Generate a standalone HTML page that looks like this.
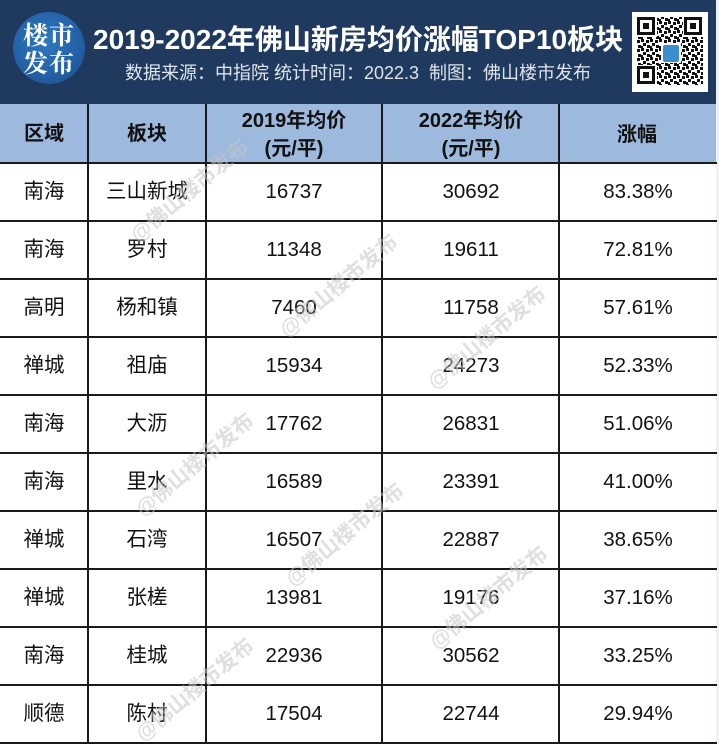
<!DOCTYPE html>
<html><head><meta charset="utf-8">
<style>
*{margin:0;padding:0;box-sizing:border-box}
html,body{width:719px;height:744px;overflow:hidden;background:#fff}
body{position:relative;font-family:"Liberation Sans","Noto Sans CJK SC",sans-serif;color:#111}
.band{position:absolute;left:0;top:0;width:716px;height:104px;background:#1f3a5e}
.rstrip{position:absolute;left:716px;top:0;width:3px;height:744px;background:#eef2f7}
.logo{position:absolute;left:13px;top:12px;width:72px;height:72px;border-radius:50%;
 background:radial-gradient(circle at 45% 40%,#2f78c2 0%,#2462a8 55%,#1b4c88 100%);}
.logo div{position:absolute;left:0;width:72px;text-align:center;color:#fff;font-family:"Noto Serif CJK SC","Noto Sans CJK SC",serif;font-weight:bold;font-size:25px;letter-spacing:1px;line-height:26px}
.title{position:absolute;left:93px;top:22px;color:#fff;font-weight:bold;font-size:28px;line-height:36px;white-space:nowrap}
.sub{position:absolute;left:125px;top:61px;color:#dfe4ec;font-size:18px;line-height:24px;white-space:nowrap}
.thead{position:absolute;left:0;top:104px;width:716px;height:59px;background:#9db9de}
.vl{position:absolute;top:104px;width:2px;height:640px;background:#1a1a1a}
.hl{position:absolute;left:0;width:717px;height:2px;background:#1a1a1a}
.c{position:absolute;text-align:center;white-space:nowrap;transform:translateX(-50%)}
.h{font-weight:bold;font-size:20px;line-height:28px}
.b{font-size:20.5px;line-height:24px}
</style></head><body>
<div class="band"></div>
<div class="rstrip"></div>
<div class="logo"><div style="top:9px">楼市</div><div style="top:37px">发布</div></div>
<div class="title">2019-2022年佛山新房均价涨幅TOP10板块</div>
<div class="sub">数据来源：中指院 统计时间：2022.3&nbsp; 制图：佛山楼市发布</div>

<svg style="position:absolute;left:632px;top:12px" width="76" height="80" viewBox="0 0 76 80">
<defs><pattern id="qr" width="9" height="9" patternUnits="userSpaceOnUse">
<rect x="0" y="0" width="3" height="3" fill="#111"/><rect x="5" y="1" width="3" height="3" fill="#111"/>
<rect x="2" y="4" width="3" height="3" fill="#111"/><rect x="6" y="6" width="3" height="3" fill="#111"/>
<rect x="0" y="7" width="2" height="2" fill="#111"/></pattern></defs>
<rect width="76" height="80" fill="#fff"/>
<rect x="5" y="5" width="66" height="68" fill="url(#qr)"/>
<g fill="#fff"><rect x="4" y="4" width="21" height="21"/><rect x="51" y="4" width="21" height="21"/><rect x="4" y="53" width="21" height="21"/></g>
<g fill="none" stroke="#111" stroke-width="3"><rect x="6.5" y="6.5" width="15" height="15"/><rect x="53.5" y="6.5" width="15" height="15"/><rect x="6.5" y="55.5" width="15" height="15"/></g>
<g fill="#111"><rect x="11" y="11" width="6" height="6"/><rect x="58" y="11" width="6" height="6"/><rect x="11" y="60" width="6" height="6"/></g>
<rect x="29" y="31" width="20" height="20" fill="#fff"/>
<rect x="31" y="33" width="16" height="17" fill="#3a8fd0" rx="2"/>
</svg>

<div class="thead"></div>

<div class="vl" style="left:87px"></div>
<div class="vl" style="left:205px"></div>
<div class="vl" style="left:381px"></div>
<div class="vl" style="left:558px"></div>

<div class="hl" style="top:162px"></div>
<div class="hl" style="top:220px"></div>
<div class="hl" style="top:278px"></div>
<div class="hl" style="top:336px"></div>
<div class="hl" style="top:394px"></div>
<div class="hl" style="top:452px"></div>
<div class="hl" style="top:510px"></div>
<div class="hl" style="top:568px"></div>
<div class="hl" style="top:626px"></div>
<div class="hl" style="top:684px"></div>
<div class="hl" style="top:742px"></div>

<div class="c h" style="left:44px;top:120px">区域</div>
<div class="c h" style="left:147px;top:120px">板块</div>
<div class="c h" style="left:294px;top:107px">2019年均价</div>
<div class="c h" style="left:294px;top:135px">(元/平)</div>
<div class="c h" style="left:471px;top:107px">2022年均价</div>
<div class="c h" style="left:471px;top:135px">(元/平)</div>
<div class="c h" style="left:637px;top:121px">涨幅</div>

<div class="c b" style="left:44px;top:180px">南海</div><div class="c b" style="left:147px;top:180px">三山新城</div><div class="c b" style="left:294px;top:180px">16737</div><div class="c b" style="left:471px;top:180px">30692</div><div class="c b" style="left:638px;top:180px">83.38%</div>
<div class="c b" style="left:44px;top:238px">南海</div><div class="c b" style="left:147px;top:238px">罗村</div><div class="c b" style="left:294px;top:238px">11348</div><div class="c b" style="left:471px;top:238px">19611</div><div class="c b" style="left:638px;top:238px">72.81%</div>
<div class="c b" style="left:44px;top:296px">高明</div><div class="c b" style="left:147px;top:296px">杨和镇</div><div class="c b" style="left:294px;top:296px">7460</div><div class="c b" style="left:471px;top:296px">11758</div><div class="c b" style="left:638px;top:296px">57.61%</div>
<div class="c b" style="left:44px;top:354px">禅城</div><div class="c b" style="left:147px;top:354px">祖庙</div><div class="c b" style="left:294px;top:354px">15934</div><div class="c b" style="left:471px;top:354px">24273</div><div class="c b" style="left:638px;top:354px">52.33%</div>
<div class="c b" style="left:44px;top:412px">南海</div><div class="c b" style="left:147px;top:412px">大沥</div><div class="c b" style="left:294px;top:412px">17762</div><div class="c b" style="left:471px;top:412px">26831</div><div class="c b" style="left:638px;top:412px">51.06%</div>
<div class="c b" style="left:44px;top:470px">南海</div><div class="c b" style="left:147px;top:470px">里水</div><div class="c b" style="left:294px;top:470px">16589</div><div class="c b" style="left:471px;top:470px">23391</div><div class="c b" style="left:638px;top:470px">41.00%</div>
<div class="c b" style="left:44px;top:528px">禅城</div><div class="c b" style="left:147px;top:528px">石湾</div><div class="c b" style="left:294px;top:528px">16507</div><div class="c b" style="left:471px;top:528px">22887</div><div class="c b" style="left:638px;top:528px">38.65%</div>
<div class="c b" style="left:44px;top:586px">禅城</div><div class="c b" style="left:147px;top:586px">张槎</div><div class="c b" style="left:294px;top:586px">13981</div><div class="c b" style="left:471px;top:586px">19176</div><div class="c b" style="left:638px;top:586px">37.16%</div>
<div class="c b" style="left:44px;top:644px">南海</div><div class="c b" style="left:147px;top:644px">桂城</div><div class="c b" style="left:294px;top:644px">22936</div><div class="c b" style="left:471px;top:644px">30562</div><div class="c b" style="left:638px;top:644px">33.25%</div>
<div class="c b" style="left:44px;top:702px">顺德</div><div class="c b" style="left:147px;top:702px">陈村</div><div class="c b" style="left:294px;top:702px">17504</div><div class="c b" style="left:471px;top:702px">22744</div><div class="c b" style="left:638px;top:702px">29.94%</div>

<svg style="position:absolute;left:0;top:0;pointer-events:none" width="719" height="744">
<g font-family="Liberation Sans, Noto Sans CJK SC, sans-serif" font-size="21" font-weight="bold" fill="#c4c4c4" fill-opacity="0.55">
<text x="138" y="243" transform="rotate(-40 138 243)">@佛山楼市发布</text>
<text x="287" y="338" transform="rotate(-40 287 338)">@佛山楼市发布</text>
<text x="435" y="390" transform="rotate(-40 435 390)">@佛山楼市发布</text>
<text x="143" y="517" transform="rotate(-40 143 517)">@佛山楼市发布</text>
<text x="293" y="587" transform="rotate(-40 293 587)">@佛山楼市发布</text>
<text x="437" y="650" transform="rotate(-40 437 650)">@佛山楼市发布</text>
<text x="143" y="742" transform="rotate(-40 143 742)">@佛山楼市发布</text>
</g>
</svg>
</body></html>
